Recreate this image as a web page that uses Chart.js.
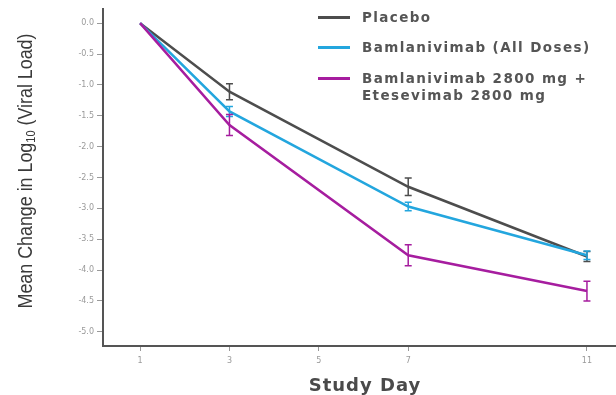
<!DOCTYPE html>
<html>
<head>
<meta charset="utf-8">
<script src="https://cdn.jsdelivr.net/npm/chart.js@4"></script>
<style>
  html, body { margin: 0; padding: 0; background: #fff; }
  #wrap { position: relative; width: 616px; height: 395px; }
  #legend { position: absolute; left: 318px; top: 0; font-family: "DejaVu Sans"; font-weight: bold; font-size: 13.5px; color: #555; letter-spacing: 1.4px; }
  .row { position: absolute; left: 0; line-height: 17px; }
  .row .swatch { position: absolute; left: 0; width: 32px; height: 3px; }
  .row .txt { position: absolute; left: 44px; white-space: pre; }
</style>
</head>
<body>
<div id="wrap">
  <canvas id="chart" width="616" height="395"></canvas>
  <div id="legend"></div>
</div>
<script>
const days = [1, 3, 7, 11]
const xTicks = [1, 3, 5, 7, 11]
const yTicks = [0, -0.5, -1, -1.5, -2, -2.5, -3, -3.5, -4, -4.5, -5]

const seriesNames = ['Placebo', 'Bamlanivimab (All Doses)', 'Bamlanivimab 2800 mg +\nEtesevimab 2800 mg']
const seriesColors = ['#4d4d4d', '#23a6de', '#a61d9f']

const placebo = [0, -1.11, -2.65, -3.78]
const placeboErr = [0, 0.13, 0.14, 0.08]
const bamAll = [0, -1.43, -2.97, -3.76]
const bamAllErr = [0, 0.08, 0.07, 0.07]
const combo = [0, -1.65, -3.76, -4.34]
const comboErr = [0, 0.17, 0.17, 0.16]

const values = [placebo, bamAll, combo]
const errors = [placeboErr, bamAllErr, comboErr]

const datasets = values.map(function (vals, i) {
    return {
        label: seriesNames[i],
        data: vals.map(function (v, j) {return {x: days[j], y: v}}),
        err: errors[i],
        borderColor: seriesColors[i],
        backgroundColor: seriesColors[i],
        borderWidth: 2.5,
        pointRadius: 0,
        tension: 0,
        order: 3 - i,
    }
})

const errorBars = {
    id: 'errorBars',
    afterDatasetsDraw(chart) {
        const ctx = chart.ctx
        const xs = chart.scales.x
        const ys = chart.scales.y
        chart.data.datasets.forEach(function (ds) {
            ctx.save()
            ctx.strokeStyle = ds.borderColor
            ctx.lineWidth = 1.5
            ds.data.forEach(function (p, j) {
                const e = ds.err[j]
                if (!e) return
                const px = xs.getPixelForValue(p.x)
                const top = ys.getPixelForValue(p.y + e)
                const bot = ys.getPixelForValue(p.y - e)
                ctx.beginPath()
                ctx.moveTo(px, top); ctx.lineTo(px, bot)
                ctx.moveTo(px - 3.5, top); ctx.lineTo(px + 3.5, top)
                ctx.moveTo(px - 3.5, bot); ctx.lineTo(px + 3.5, bot)
                ctx.stroke()
            })
            ctx.restore()
        })
    }
}

const axisTitles = {
    id: 'axisTitles',
    afterDraw(chart) {
        const ctx = chart.ctx
        // y title with subscript, condensed
        ctx.save()
        ctx.translate(26, 171)
        ctx.rotate(-Math.PI / 2)
        ctx.scale(0.85, 1)
        ctx.fillStyle = '#3a3a3a'
        ctx.textBaseline = 'middle'
        const big = '21px "Liberation Sans"'
        const small = '13px "Liberation Sans"'
        const parts = [['Mean Change in Log', big, 0], ['10', small, 5], [' (Viral Load)', big, 0]]
        let total = 0
        parts.forEach(function (p) {ctx.font = p[1]; total += ctx.measureText(p[0]).width})
        let x = -total / 2
        parts.forEach(function (p) {
            ctx.font = p[1]
            ctx.fillText(p[0], x, p[2])
            x += ctx.measureText(p[0]).width
        })
        ctx.restore()

        // x title
        ctx.save()
        ctx.fillStyle = '#4a4a4a'
        ctx.font = 'bold 18px "DejaVu Sans"'
        ctx.letterSpacing = '1px'
        ctx.textAlign = 'center'
        ctx.textBaseline = 'middle'
        ctx.fillText('Study Day', 365, 386)
        ctx.restore()
    }
}

const config = {
    type: 'line',
    data: {datasets: datasets},
    options: {
        responsive: false,
        animation: false,
        layout: {padding: {top: 9, right: 0, left: 0, bottom: 0}},
        plugins: {
            legend: {display: false},
            tooltip: {enabled: false},
        },
        scales: {
            x: {
                type: 'linear',
                min: 0.17,
                max: 11.65,
                afterBuildTicks: function (scale) {scale.ticks = xTicks.map(function (v) {return {value: v}})},
                afterFit: function (scale) {scale.height = 49},
                ticks: {
                    color: '#9a9a9a',
                    font: {size: 8, family: 'DejaVu Sans'},
                    padding: 5,
                    maxRotation: 0,
                },
                grid: {display: true, drawOnChartArea: false, drawTicks: true, tickLength: 5, tickColor: '#999', tickWidth: 1},
                border: {color: '#555', width: 2},
            },
            y: {
                min: -5.23,
                max: 0.23,
                afterBuildTicks: function (scale) {scale.ticks = yTicks.map(function (v) {return {value: v}})},
                afterFit: function (scale) {scale.width = 103},
                ticks: {
                    color: '#9a9a9a',
                    font: {size: 8, family: 'DejaVu Sans'},
                    padding: 3,
                    callback: function (v) {return v.toFixed(1)},
                },
                grid: {display: true, drawOnChartArea: false, drawTicks: true, tickLength: 6, tickColor: '#999', tickWidth: 1},
                border: {color: '#555', width: 2},
            },
        },
    },
    plugins: [errorBars, axisTitles],
}

new Chart(document.querySelector('#chart'), config)

// legend built from the same series
const legendRows = [17, 47, 78]
const legend = document.querySelector('#legend')
seriesNames.forEach(function (name, i) {
    const row = document.createElement('div')
    row.className = 'row'
    row.style.top = (legendRows[i] - 8.5) + 'px'
    const sw = document.createElement('div')
    sw.className = 'swatch'
    sw.style.background = seriesColors[i]
    sw.style.top = '7px'
    const txt = document.createElement('div')
    txt.className = 'txt'
    txt.textContent = name
    row.appendChild(sw)
    row.appendChild(txt)
    legend.appendChild(row)
})
</script>
</body>
</html>
